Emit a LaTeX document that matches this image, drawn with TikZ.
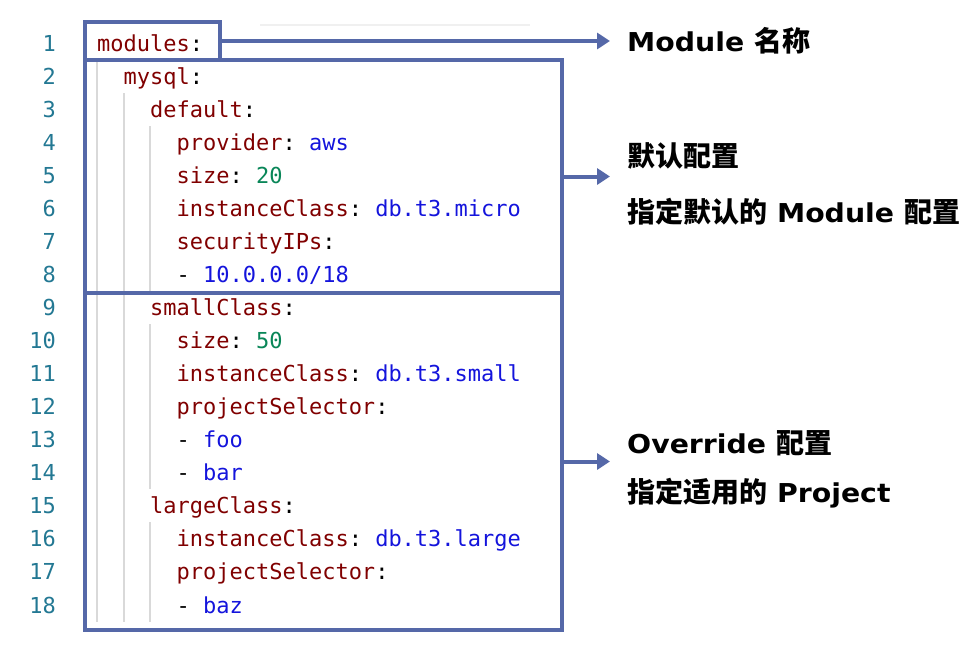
\documentclass[tikz,border=0pt]{standalone}
\usepackage{fontspec}
\usetikzlibrary{arrows.meta}
\newfontfamily\codefont{DejaVu Sans Mono}
\newfontfamily\latfont[FakeStretch=1.09]{DejaVu Sans}
\newfontfamily\zhfont{Noto Sans CJK SC}
\definecolor{frame}{HTML}{5568A8}
\definecolor{keyred}{HTML}{800000}
\definecolor{valblue}{HTML}{1414DC}
\definecolor{numgreen}{HTML}{098658}
\definecolor{lineno}{HTML}{237893}
\definecolor{guidegray}{HTML}{D9D9D9}
\newcommand{\ykey}[1]{\textcolor{keyred}{#1}}
\newcommand{\yval}[1]{\textcolor{valblue}{#1}}
\newcommand{\ynum}[1]{\textcolor{numgreen}{#1}}
\newcommand{\zh}[1]{{\zhfont\fontsize{28}{30}\selectfont #1}}
\begin{document}
\begin{tikzpicture}[x=1pt,y=-1pt,
    box/.style={draw=frame, line width=4pt, inner sep=0pt, outer sep=0pt},
    num/.style={anchor=base east, inner sep=0pt, text=lineno, font=\codefont\fontsize{22}{26}\selectfont},
    code/.style={anchor=base west, inner sep=0pt, font=\codefont\fontsize{22}{26}\selectfont\frenchspacing},
    note/.style={anchor=base west, inner sep=0pt, font=\latfont\bfseries\fontsize{26}{30}\selectfont},
    link/.style={draw=frame, line width=4pt, -{Triangle[length=13pt,width=16pt]}},
    guide/.style={draw=guidegray, line width=1.2pt}]
      \useasboundingbox (0,0) rectangle (980,662);
      \draw[line width=1.5pt, draw=black!6] (260,25) -- (530,25);
      % indent guides
      \draw[guide] (97,60) -- (97,622);
      \draw[guide] (124,93) -- (124,622);
      \draw[guide] (150,126) -- (150,291);
      \draw[guide] (150,324) -- (150,489);
      \draw[guide] (150,522) -- (150,622);
      % line numbers
      \foreach \n in {1,...,18}
        \node[num] (n\n) at (56,51+33.06*\n-33.06) {\n};
      % yaml
      \node[code] (c1) at (97,51) {\ykey{modules}:};
      \node[code] (c2) at (123.46,84.06) {\ykey{mysql}:};
      \node[code] (c3) at (149.92,117.12) {\ykey{default}:};
      \node[code] (c4) at (176.38,150.18) {\ykey{provider}: \yval{aws}};
      \node[code] (c5) at (176.38,183.24) {\ykey{size}: \ynum{20}};
      \node[code] (c6) at (176.38,216.3) {\ykey{instanceClass}: \yval{db.t3.micro}};
      \node[code] (c7) at (176.38,249.36) {\ykey{securityIPs}:};
      \node[code] (c8) at (176.38,282.42) {- \yval{10.0.0.0/18}};
      \node[code] (c9) at (149.92,315.48) {\ykey{smallClass}:};
      \node[code] (c10) at (176.38,348.54) {\ykey{size}: \ynum{50}};
      \node[code] (c11) at (176.38,381.6) {\ykey{instanceClass}: \yval{db.t3.small}};
      \node[code] (c12) at (176.38,414.66) {\ykey{projectSelector}:};
      \node[code] (c13) at (176.38,447.72) {- \yval{foo}};
      \node[code] (c14) at (176.38,480.78) {- \yval{bar}};
      \node[code] (c15) at (149.92,513.84) {\ykey{largeClass}:};
      \node[code] (c16) at (176.38,546.9) {\ykey{instanceClass}: \yval{db.t3.large}};
      \node[code] (c17) at (176.38,579.96) {\ykey{projectSelector}:};
      \node[code] (c18) at (176.38,613.02) {- \yval{baz}};
      % frames
      \node[box, minimum width=477pt, minimum height=337pt] (ovrbox) at (323.5,461.5) {};
      \node[box, minimum width=477pt, minimum height=233pt] (defbox) at (323.5,176.5) {};
      \node[box, minimum width=135pt, minimum height=38pt] (modbox) at (152.5,41) {};
      % notes
      \node[note] (modnote) at (627,51) {Module \zh{名称}};
      \node[note] (defnote) at (627,166) {\zh{默认配置}};
      \node[note] (defdesc) at (627,222) {\zh{指定默认的} Module \zh{配置}};
      \node[note] (ovrnote) at (627,453) {Override \zh{配置}};
      \node[note] (ovrdesc) at (627,502) {\zh{指定适用的} Project};
      \coordinate (tipx) at (610,0);
      \begin{scope}[link]
        \draw (modbox.east) -- (modbox.east -| tipx);
        \draw (defbox.east) -- (defbox.east -| tipx);
        \draw (ovrbox.east) -- (ovrbox.east -| tipx);
      \end{scope}
    \end{tikzpicture}
\end{document}
